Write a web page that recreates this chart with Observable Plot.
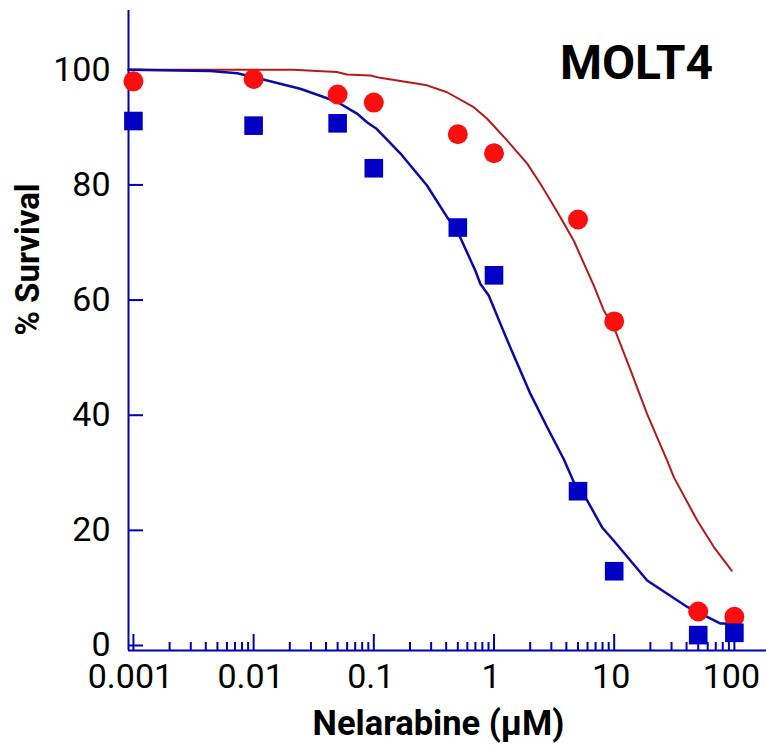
<!DOCTYPE html>
<html>
<head>
<meta charset="utf-8">
<script src="https://cdn.jsdelivr.net/npm/d3@7"></script>
<script src="https://cdn.jsdelivr.net/npm/@observablehq/plot@0.6"></script>
<style>
  html, body { margin: 0; padding: 0; background: #fff; }
  #chart svg { display: block; }
</style>
</head>
<body>
<div id="chart"></div>
<script>
// ---- data ----
const concentrations = [0.001, 0.01, 0.05, 0.1, 0.5, 1, 5, 10, 50, 100];
const redSurvival  = [98.0, 98.4, 95.7, 94.3, 88.8, 85.5, 74.0, 56.3, 5.9, 5.0];
const blueSurvival = [91.1, 90.3, 90.7, 82.9, 72.6, 64.3, 26.8, 12.9, 1.8, 2.2];

const redFitX = [0.00091, 0.0214, 0.0492, 0.0598, 0.0935, 0.113, 0.277, 0.407, 0.678, 0.877, 1.29, 1.89, 2.43, 2.95, 3.57, 4.61, 6.77, 8.19, 9.93, 13.7, 18.8, 27.6, 31.4, 49.1, 67.5, 95];
const redFitY = [100, 100, 99.6, 99.2, 99.0, 98.6, 97.3, 96.1, 93.5, 91.5, 87.7, 83.7, 80.2, 77.3, 74.4, 70.3, 62.5, 58.2, 55.3, 47.8, 40.2, 32.1, 29.2, 21.7, 17.1, 13.0];

const blueFitX = [0.00091, 0.00435, 0.0073, 0.0101, 0.0244, 0.0358, 0.0497, 0.0724, 0.0877, 0.106, 0.166, 0.277, 0.407, 0.493, 0.70, 0.771, 0.904, 1.29, 2.01, 2.77, 3.80, 4.61, 5.96, 7.94, 9.93, 18.8, 40.6, 76.8, 102];
const blueFitY = [100, 99.8, 99.4, 98.7, 96.7, 95.5, 94.4, 92.4, 90.9, 89.7, 85.5, 79.9, 74.4, 72.1, 65.1, 62.8, 60.8, 53.0, 43.7, 37.9, 32.4, 28.4, 25.2, 20.5, 18.2, 11.3, 6.7, 3.8, 3.8];

const xMajorTicks = [0.001, 0.01, 0.1, 1, 10, 100];
const xTickLabels = ["0.001", "0.01", "0.1", "1", "10", "100"];
const yTicks = [0, 20, 40, 60, 80, 100];
const xMinorTicks = [0.001, 0.01, 0.1, 1, 10].flatMap(d => [2,3,4,5,6,7,8,9].map(k => +(d * k).toPrecision(3)));

const panelLabel = "MOLT4";
const xTitle = "Nelarabine (µM)";
const yTitle = "% Survival";

// ---- tables ----
const points = concentrations.map((c, i) => ({c, red: redSurvival[i], blue: blueSurvival[i]}));
const redFit = redFitX.map((x, i) => ({x, y: redFitY[i]}));
const blueFit = blueFitX.map((x, i) => ({x, y: blueFitY[i]}));
const labelOf = new Map(xMajorTicks.map((t, i) => [t, xTickLabels[i]]));

// ---- layout ----
const W = 766, H = 745;
const mL = 128, mR = 0, mT = 10, mB = 95;
const frameW = W - mL - mR, frameH = H - mT - mB;
const xDomain = [0.00091, 185];
const yDomain = [-0.87, 110.3];

const axisColor = "#0000b4";
const fontFamily = "Roboto, 'Noto Sans', sans-serif";

const chart = Plot.plot({
  width: W, height: H,
  marginLeft: mL, marginRight: mR, marginTop: mT, marginBottom: mB,
  style: {fontFamily, background: "#fff", color: "#000"},
  x: {type: "log", domain: xDomain},
  y: {domain: yDomain},
  marks: [
    // axis lines
    Plot.ruleX([xDomain[0]], {stroke: axisColor, strokeWidth: 2}),
    Plot.ruleY([yDomain[0]], {stroke: axisColor, strokeWidth: 2}),
    // inward ticks
    Plot.tickX(xMajorTicks, {x: d => d, stroke: axisColor, strokeWidth: 2, insetTop: frameH - 16}),
    Plot.tickX(xMinorTicks, {x: d => d, stroke: axisColor, strokeWidth: 2, insetTop: frameH - 8}),
    Plot.tickY(yTicks, {y: d => d, stroke: axisColor, strokeWidth: 2, insetRight: frameW - 15}),
    // tick labels
    Plot.axisX(xMajorTicks, {tickSize: 0, tickPadding: 13, dx: -3, tickFormat: d => labelOf.get(d), fontSize: 34, fill: "#000", label: null}),
    Plot.axisY(yTicks, {tickSize: 0, tickPadding: 18, fontSize: 34, fill: "#000", label: null}),
    // fit curves
    Plot.line(redFit, {x: "x", y: "y", stroke: "#b51a1a", strokeWidth: 2}),
    Plot.line(blueFit, {x: "x", y: "y", stroke: "#0a0aa6", strokeWidth: 2.5}),
    // data points
    Plot.dot(points, {x: "c", y: "red", r: 10, fill: "#fa0f0f", symbol: "circle"}),
    Plot.dot(points, {x: "c", y: "blue", r: 10.5, fill: "#0000c4", symbol: "square"}),
    // titles
    Plot.text([xTitle], {text: d => d, frameAnchor: "bottom", dx: 438 - (mL + frameW / 2), dy: 73, lineAnchor: "middle", fontSize: 34.5, fontWeight: "bold", fill: "#000"}),
    Plot.text([yTitle], {text: d => d, frameAnchor: "left", rotate: -90, dx: 28 - mL, dy: 5, lineAnchor: "middle", fontSize: 33, fontWeight: "bold", fill: "#000"}),
    Plot.text([panelLabel], {text: d => d, frameAnchor: "top-right", textAnchor: "middle", lineAnchor: "middle", dx: 636 - W, dy: 53, fontSize: 48, fontWeight: "bold", fill: "#000"})
  ]
});
document.getElementById("chart").appendChild(chart);
</script>
</body>
</html>
